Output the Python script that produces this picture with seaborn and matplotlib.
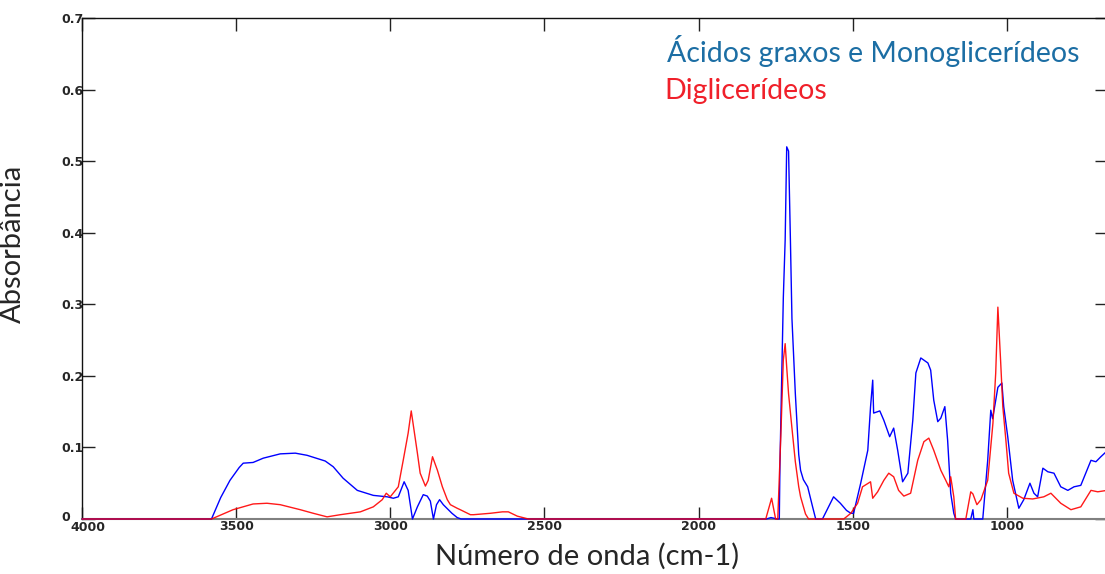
import matplotlib
matplotlib.use("Agg")
import matplotlib.pyplot as plt
import matplotlib.transforms as mtransforms
import seaborn as sns
import pandas as pd

# Ácidos graxos e Monoglicerídeos (blue)
wn_mono = [4000, 3580, 3550, 3520, 3490, 3477, 3445, 3412, 3357, 3308, 3270, 3211, 3185, 3153,
           3107, 3055, 3010, 2990, 2974, 2955, 2942, 2928, 2912, 2893, 2880, 2870, 2860, 2850,
           2840, 2828, 2800, 2783, 2770, 1780, 1765, 1745, 1738, 1736, 1725, 1719, 1714, 1708,
           1702, 1697, 1686, 1675, 1669, 1660, 1646, 1630, 1620, 1598, 1562, 1540, 1520, 1506,
           1497, 1474, 1451, 1442, 1435, 1432, 1412, 1399, 1380, 1367, 1354, 1338, 1321, 1305,
           1295, 1279, 1256, 1247, 1237, 1224, 1214, 1201, 1192, 1182, 1172, 1166, 1117, 1110,
           1107, 1078, 1062, 1052, 1046, 1029, 1016, 1010, 997, 981, 961, 945, 925, 912, 900,
           883, 867, 847, 825, 802, 782, 760, 727, 711, 695, 675]
abs_mono = [0, 0, 0.030, 0.054, 0.072, 0.078, 0.079, 0.085, 0.091, 0.092, 0.089, 0.081, 0.073, 0.057,
            0.040, 0.033, 0.031, 0.029, 0.031, 0.052, 0.040, 0, 0.017, 0.034, 0.032, 0.025, 0, 0.020,
            0.027, 0.020, 0.008, 0.002, 0, 0, 0.002, 0, 0, 0.074, 0.309, 0.390, 0.520, 0.514,
            0.390, 0.280, 0.175, 0.090, 0.068, 0.055, 0.045, 0.017, 0, 0, 0.031, 0.022, 0.012, 0.008,
            0.008, 0.050, 0.096, 0.157, 0.194, 0.148, 0.151, 0.138, 0.115, 0.127, 0.096, 0.052, 0.064, 0.138,
            0.204, 0.225, 0.218, 0.208, 0.166, 0.136, 0.141, 0.157, 0.110, 0.036, 0.008, 0, 0, 0.013,
            0, 0, 0.082, 0.152, 0.140, 0.184, 0.190, 0.157, 0.115, 0.054, 0.015, 0.027, 0.050, 0.036, 0.031,
            0.071, 0.066, 0.064, 0.045, 0.040, 0.045, 0.047, 0.082, 0.080, 0.087, 0.095]

# Diglicerídeos (red)
wn_di = [4000, 3580, 3510, 3445, 3400, 3357, 3292, 3250, 3205, 3162, 3097, 3055, 3026, 3013, 3000,
         2974, 2958, 2942, 2932, 2912, 2903, 2886, 2877, 2863, 2847, 2831, 2815, 2805, 2783, 2773,
         2740, 2730, 2675, 2636, 2617, 2588, 2552, 1782, 1763, 1750, 1743, 1733, 1725, 1719, 1714,
         1708, 1697, 1686, 1675, 1669, 1653, 1643, 1529, 1506, 1484, 1468, 1442, 1435, 1419, 1399,
         1383, 1367, 1351, 1334, 1312, 1289, 1269, 1253, 1237, 1214, 1198, 1188, 1182, 1172, 1166,
         1133, 1117, 1110, 1097, 1084, 1062, 1045, 1036, 1029, 1020, 1013, 1003, 994, 977, 948, 916,
         880, 857, 825, 792, 760, 727, 705, 675]
abs_di = [0, 0, 0.013, 0.021, 0.022, 0.020, 0.013, 0.008, 0.003, 0.006, 0.010, 0.017, 0.027, 0.036, 0.031,
          0.045, 0.082, 0.120, 0.151, 0.092, 0.064, 0.046, 0.054, 0.087, 0.068, 0.045, 0.027, 0.020, 0.015, 0.013,
          0.006, 0.006, 0.008, 0.010, 0.010, 0.004, 0, 0, 0.029, 0, 0, 0.117, 0.222, 0.245, 0.212,
          0.175, 0.127, 0.080, 0.045, 0.031, 0.007, 0, 0, 0.008, 0.022, 0.045, 0.052, 0.029, 0.038, 0.054,
          0.064, 0.059, 0.040, 0.032, 0.036, 0.082, 0.108, 0.113, 0.096, 0.068, 0.054, 0.045, 0.059, 0.031, 0,
          0, 0.038, 0.035, 0.020, 0.027, 0.054, 0.134, 0.204, 0.296, 0.220, 0.157, 0.110, 0.064, 0.036, 0.029, 0.028,
          0.031, 0.036, 0.022, 0.013, 0.017, 0.040, 0.038, 0.040]

series_names = ["Ácidos graxos e Monoglicerídeos", "Diglicerídeos"]
x_ticks = [4000, 3500, 3000, 2500, 2000, 1500, 1000]
x_tick_labels = ["4000", "3500", "3000", "2500", "2000", "1500", "1000"]
y_ticks = [0, 0.1, 0.2, 0.3, 0.4, 0.5, 0.6, 0.7]
y_tick_labels = ["0", "0.1", "0.2", "0.3", "0.4", "0.5", "0.6", "0.7"]

sns.set_style("white")
plt.rcParams['font.family'] = ['DejaVu Sans']

fig = plt.figure(figsize=(11.05, 5.74), dpi=100)
ax = fig.add_axes([82 / 1105, 55 / 574, 1025 / 1105, 501 / 574])

df_mono = pd.DataFrame({"wn": wn_mono, "abs": abs_mono})
df_di = pd.DataFrame({"wn": wn_di, "abs": abs_di})
sns.lineplot(data=df_mono, x="wn", y="abs", ax=ax, color="#0000FF", lw=1.0, estimator=None,
             clip_on=False, zorder=3)
sns.lineplot(data=df_di, x="wn", y="abs", ax=ax, color="#FF0000", lw=1.0, estimator=None,
             clip_on=False, zorder=3, alpha=0.9)

ax.set_xlim(4000, 675)
ax.set_ylim(0, 0.7)
ax.set_xticks(x_ticks)
ax.set_xticklabels(x_tick_labels)
ax.set_yticks(y_ticks)
ax.set_yticklabels(y_tick_labels)

for lab in ax.get_xticklabels() + ax.get_yticklabels():
    lab.set_fontfamily(['Liberation Sans Narrow', 'DejaVu Sans'])
    lab.set_fontweight('bold')
    lab.set_fontsize(9)
for lab in ax.get_yticklabels():
    lab.set_horizontalalignment('left')

ax.tick_params(axis='both', direction='in', length=9, width=1, color='#222222',
               top=True, right=True, bottom=True, left=True)
ax.tick_params(axis='x', pad=1)
ax.tick_params(axis='y', pad=15)

# nudge the corner labels apart as in the original ("0" sits above, "4000" to the right)
xlab0 = ax.get_xticklabels()[0]
xlab0.set_transform(xlab0.get_transform() + mtransforms.ScaledTranslation(6 / 100, -1 / 100, fig.dpi_scale_trans))
ylab0 = ax.get_yticklabels()[0]
ylab0.set_transform(ylab0.get_transform() + mtransforms.ScaledTranslation(0, 3 / 100, fig.dpi_scale_trans))

for side in ['top', 'left', 'right']:
    ax.spines[side].set_color('#111111')
    ax.spines[side].set_linewidth(1.0)
ax.spines['bottom'].set_color('#808080')
ax.spines['bottom'].set_linewidth(1.5)

ax.set_xlabel("Número de onda (cm-1)", fontsize=21, family=['Lato', 'DejaVu Sans'])
ax.xaxis.set_label_coords(0.4927, -0.047, transform=ax.transAxes)
ax.xaxis.label.set_verticalalignment('top')
ax.set_ylabel("Absorbância", fontsize=21, family=['Lato', 'DejaVu Sans'])
ax.yaxis.set_label_coords(-0.055, 0.55)

ax.text(0.571, 0.912, series_names[0], transform=ax.transAxes, color="#1C6EA4",
        fontsize=20.5, family=['Lato', 'DejaVu Sans'], va='baseline', ha='left')
ax.text(0.568, 0.838, series_names[1], transform=ax.transAxes, color="#F0202A",
        fontsize=20.5, family=['Lato', 'DejaVu Sans'], va='baseline', ha='left')

fig.savefig("out.png", dpi=100)
